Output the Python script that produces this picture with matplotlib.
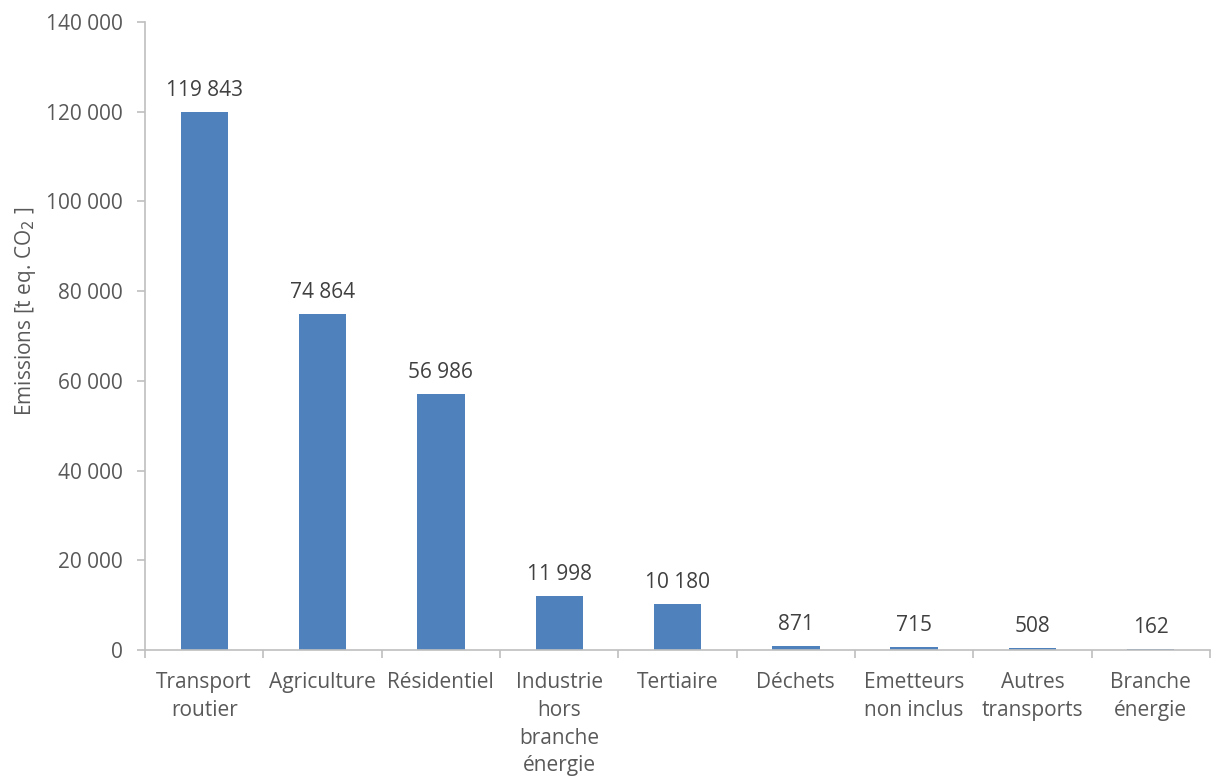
import matplotlib
matplotlib.use("Agg")
import matplotlib.pyplot as plt
import numpy as np

categories = ["Transport\nroutier", "Agriculture", "Résidentiel",
              "Industrie\nhors\nbranche\nénergie", "Tertiaire", "Déchets",
              "Emetteurs\nnon inclus", "Autres\ntransports", "Branche\nénergie"]
emissions = [119843, 74864, 56986, 11998, 10180, 871, 715, 508, 162]
yticks = [0, 20000, 40000, 60000, 80000, 100000, 120000, 140000]

plt.rcParams['font.family'] = ['Open Sans', 'DejaVu Sans']

fig = plt.figure(figsize=(12.11, 7.8), dpi=100)
ax = fig.add_axes([145 / 1211, 130 / 780, 1065 / 1211, 628 / 780])

x = np.arange(len(categories))
ax.bar(x, emissions, width=0.4, color='#4F81BD', zorder=2)

def fmt(v):
    return '{:,}'.format(v).replace(',', ' ')

for xi, v in zip(x, emissions):
    ax.annotate(fmt(v), (xi, v), xytext=(0, 8), textcoords='offset points',
                ha='center', va='bottom', fontsize=15, color='#404040')

ax.set_xlim(-0.5, len(categories) - 0.5)
ax.set_ylim(0, 140000)
ax.set_yticks(yticks)
ax.set_yticklabels([fmt(t) for t in yticks])
ax.set_xticks(x)
ax.set_xticklabels(categories, linespacing=1.42)
ax.set_xticks(np.arange(len(categories) + 1) - 0.5, minor=True)

for s in ['top', 'right']:
    ax.spines[s].set_visible(False)
for s in ['left', 'bottom']:
    ax.spines[s].set_color('#BFBFBF')
    ax.spines[s].set_linewidth(1.2)

ax.tick_params(axis='x', which='major', length=0, pad=16, labelsize=15,
               labelcolor='#595959')
ax.tick_params(axis='x', which='minor', length=6, color='#BFBFBF', width=1.2)
ax.tick_params(axis='y', length=6, color='#BFBFBF', width=1.2, pad=10,
               labelsize=15, labelcolor='#595959')

fig.text(25 / 1211, (780 - 311) / 780, 'Emissions [t eq. CO$_2$ ]',
         rotation=90, ha='center', va='center', fontsize=15, color='#595959')

fig.savefig('out.png', dpi=100)
